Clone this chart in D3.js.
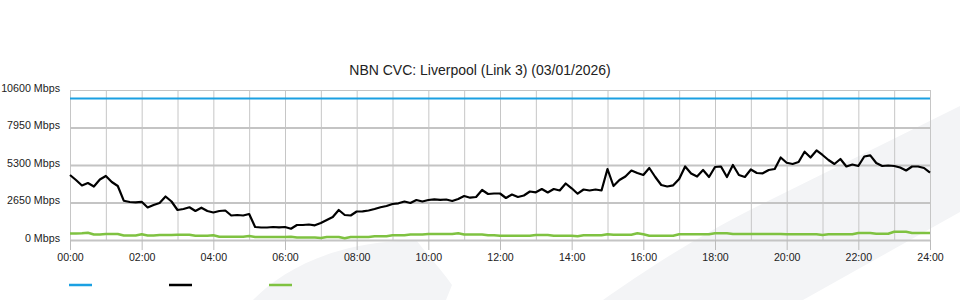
<!DOCTYPE html>
<html>
<head>
<meta charset="utf-8">
<script src="https://cdn.jsdelivr.net/npm/d3@7"></script>
<style>
    body { margin: 0; background: #fff; }
    #chart { width: 960px; height: 300px; }
    text { font-family: "Liberation Sans", Arial, sans-serif; }
</style>
</head>
<body>
<div id="chart"></div>
<script>

// Chart values (10 minute samples, Mbps)
const chartTitle = "NBN CVC: Liverpool (Link 3) (03/01/2026)";
const sampleMinutes = 10;

const yTickValues = [0, 2650, 5300, 7950, 10600];
const xTickHours = [0, 2, 4, 6, 8, 10, 12, 14, 16, 18, 20, 22, 24];
const gridHours = [0, 1, 2, 3, 4, 5, 6, 7, 8, 9, 10, 11, 12, 13, 14, 15, 16, 17, 18, 19, 20, 21, 22, 23, 24];

const capacityHours = [0, 24];
const capacityMbps = [10000, 10000];

const trafficInMbps = [
    4593, 4240, 3851, 4028, 3781, 4275, 4523, 4099, 3816, 2777,
    2685, 2664, 2700, 2297, 2473, 2615, 3074, 2721, 2120, 2191,
    2311, 2050, 2283, 2049, 1943, 2049, 2085, 1731, 1767, 1731,
    1837, 919, 883, 883, 919, 897, 919, 799, 1060, 1060,
    1095, 1039, 1201, 1413, 1625, 2120, 1767, 1731, 2014, 2028,
    2085, 2191, 2311, 2403, 2544, 2594, 2721, 2615, 2827, 2721,
    2827, 2876, 2841, 2862, 2756, 2897, 3109, 2989, 3039, 3533,
    3251, 3286, 3286, 2968, 3215, 3039, 3145, 3427, 3371, 3604,
    3357, 3604, 3498, 3993, 3653, 3272, 3569, 3498, 3569, 3498,
    5017, 3816, 4240, 4487, 4911, 4735, 4593, 5088, 4452, 3887,
    3781, 3865, 4311, 5194, 4699, 4487, 4947, 4452, 5159, 5194,
    4452, 5300, 4593, 4452, 4982, 4735, 4713, 4947, 5017, 5830,
    5462, 5371, 5512, 6240, 5830, 6325, 6007, 5653, 5371, 5724,
    5194, 5335, 5229, 5901, 5985, 5441, 5229, 5265, 5229, 5123,
    4911, 5194, 5194, 5088, 4756
];

const trafficOutMbps = [
    460, 460, 470, 516, 389, 389, 424, 424, 424, 318,
    318, 318, 403, 318, 318, 353, 353, 353, 375, 375,
    375, 297, 297, 297, 332, 233, 233, 233, 233, 233,
    283, 212, 212, 212, 212, 212, 212, 233, 177, 177,
    177, 177, 141, 212, 212, 212, 120, 212, 212, 212,
    212, 261, 261, 261, 332, 332, 332, 389, 389, 389,
    424, 424, 424, 424, 424, 473, 389, 389, 389, 389,
    332, 332, 304, 304, 304, 304, 304, 304, 353, 353,
    353, 304, 304, 304, 304, 261, 332, 332, 332, 332,
    403, 375, 375, 375, 375, 473, 403, 297, 297, 297,
    297, 297, 403, 403, 403, 403, 403, 403, 473, 473,
    473, 424, 424, 424, 424, 424, 424, 424, 424, 424,
    403, 403, 403, 403, 403, 403, 353, 403, 403, 403,
    403, 403, 495, 495, 495, 438, 438, 438, 580, 580,
    580, 495, 495, 495, 495
];

const seriesColors = ["#1ba0e2", "#000000", "#7fc241"];


class CvcChart {

    constructor(parentElement) {
        this.parentElement = parentElement;
        this.initVis();
    }

    initVis() {
        let vis = this;

        vis.margin = {top: 90, right: 30, bottom: 60, left: 70};
        vis.width = 960 - vis.margin.left - vis.margin.right;
        vis.height = 300 - vis.margin.top - vis.margin.bottom;

        vis.root = d3.select("#" + vis.parentElement).append("svg")
            .attr("width", 960)
            .attr("height", 300);

        // faint watermark shapes behind everything
        vis.root.append("path")
            .attr("d", "M253,300 C280,272 330,244 400,241 L417,241 C428,256 442,270 452,285 L446,300 Z")
            .attr("fill", "#f3f4f6");
        vis.root.append("path")
            .attr("d", "M603,300 C640,274 690,240 760,205 L960,106 L960,212 L803,300 Z")
            .attr("fill", "#f3f4f6");

        vis.root.append("text")
            .attr("x", 480)
            .attr("y", 75)
            .attr("text-anchor", "middle")
            .attr("font-size", 14)
            .attr("fill", "#222")
            .text(chartTitle);

        vis.svg = vis.root.append("g")
            .attr("transform", "translate(" + vis.margin.left + "," + vis.margin.top + ")");

        // Scales
        vis.x = d3.scaleLinear().domain([0, 24]).range([0, vis.width]);
        vis.y = d3.scaleLinear().domain([0, 10600]).range([vis.height, 0]);

        // Grid
        vis.svg.append("g")
            .attr("class", "grid-x")
            .attr("transform", `translate(0, ${vis.height})`)
            .call(d3.axisBottom(vis.x).tickValues(gridHours).tickSize(-vis.height).tickFormat(""))
            .call(g => g.select(".domain").remove())
            .selectAll("line")
            .attr("stroke", "#c6c6c6")
            .attr("stroke-width", 1);

        vis.svg.append("g")
            .attr("class", "grid-y")
            .call(d3.axisLeft(vis.y).tickValues(yTickValues).tickSize(-vis.width).tickFormat(""))
            .call(g => g.select(".domain").remove())
            .selectAll("line")
            .attr("stroke", "#c4c4c4")
            .attr("stroke-width", d => d === 10600 ? 1 : 2);

        // Axes
        vis.xAxisGroup = vis.svg.append("g")
            .attr("class", "x-axis")
            .attr("transform", `translate(0, ${vis.height})`);
        vis.yAxisGroup = vis.svg.append("g")
            .attr("class", "y-axis");

        vis.xAxis = d3.axisBottom(vis.x)
            .tickValues(xTickHours)
            .tickSize(10)
            .tickPadding(3)
            .tickFormat(h => d3.format("02")(h) + ":00");

        vis.yAxis = d3.axisLeft(vis.y)
            .tickValues(yTickValues)
            .tickSize(0)
            .tickPadding(10)
            .tickFormat(d => d + " Mbps");

        vis.line = d3.line()
            .x(d => vis.x(d[0]))
            .y(d => vis.y(d[1]));

        vis.wrangleData();
    }

    wrangleData() {
        let vis = this;

        vis.displayData = [
            capacityMbps.map((v, i) => [capacityHours[i], v]),
            trafficInMbps.map((v, i) => [i * sampleMinutes / 60, v]),
            trafficOutMbps.map((v, i) => [i * sampleMinutes / 60, v])
        ];

        vis.updateVis();
    }

    updateVis() {
        let vis = this;

        vis.xAxisGroup.call(vis.xAxis);
        vis.xAxisGroup.select(".domain").remove();
        vis.xAxisGroup.selectAll("line").attr("stroke", "#bbbbbb");
        vis.xAxisGroup.selectAll("text").attr("font-size", 10.6).attr("fill", "#222");

        vis.yAxisGroup.call(vis.yAxis);
        vis.yAxisGroup.select(".domain").remove();
        vis.yAxisGroup.selectAll("text").attr("font-size", 10.7).attr("fill", "#222").attr("y", -2);

        vis.svg.selectAll(".series")
            .data(vis.displayData)
            .enter().append("path")
            .attr("class", "series")
            .attr("fill", "none")
            .attr("stroke", (d, i) => seriesColors[i])
            .attr("stroke-width", (d, i) => i === 2 ? 2.5 : 2.2)
            .attr("stroke-linejoin", "round")
            .attr("d", vis.line);

        // Legend swatches (no labels in the source)
        vis.root.selectAll(".legend-line")
            .data(seriesColors)
            .enter().append("line")
            .attr("class", "legend-line")
            .attr("x1", (d, i) => 69 + i * 100)
            .attr("x2", (d, i) => 92 + i * 100)
            .attr("y1", 285)
            .attr("y2", 285)
            .attr("stroke", d => d)
            .attr("stroke-width", 2.5);
    }
}

new CvcChart("chart");

</script>
</body>
</html>
